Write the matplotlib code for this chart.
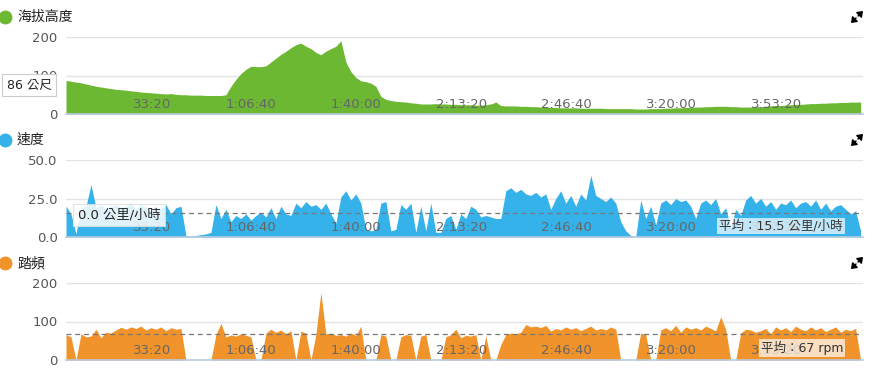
import numpy as np
import matplotlib
matplotlib.use("Agg")
import matplotlib.pyplot as plt
from matplotlib.lines import Line2D

plt.rcParams['font.family'] = ['DejaVu Sans', 'Noto Sans CJK TC']

W, H = 878, 391

# samples every 95 s (about 5 px in the reference)
t = np.arange(160) * 95

altitude = [87, 85, 83, 81, 78, 75, 72, 70, 68, 66, 64, 63, 62, 60, 59, 57, 56, 55, 54, 53,
            52, 53, 51, 50, 50, 49, 49, 49, 48, 48, 48, 48, 50, 72, 90, 105, 116, 124, 123, 123,
            125, 135, 145, 155, 163, 172, 180, 184, 176, 170, 160, 154, 163, 170, 176, 190, 135, 110, 95, 86,
            84, 80, 72, 46, 38, 35, 33, 32, 31, 29, 28, 26, 26, 26, 27, 26, 26, 25, 25, 24,
            24, 24, 23, 23, 24, 26, 31, 22, 21, 21, 21, 20, 20, 19, 19, 18, 18, 17, 17, 16,
            16, 16, 16, 15, 15, 15, 15, 15, 14, 14, 14, 14, 14, 14, 13, 13, 13, 14, 14, 14,
            15, 15, 16, 16, 17, 17, 18, 18, 19, 19, 20, 20, 20, 19, 19, 18, 18, 18, 19, 19,
            20, 21, 22, 22, 23, 24, 25, 25, 26, 27, 27, 28, 28, 29, 29, 30, 30, 31, 31, 31]

speed = [20, 15, 2, 19, 20, 34, 19, 21, 18, 20, 21, 19, 20, 22, 18, 21, 19, 17, 20, 18,
         21, 15, 19, 20, 1, 0.5, 1, 1.5, 2, 3, 21, 12, 18, 10, 14, 12, 15, 11, 14, 16,
         13, 19, 12, 20, 15, 14, 22, 19, 23, 20, 21, 18, 22, 15, 9, 26, 30, 24, 28, 22,
         5, 4, 5, 22, 23, 4, 5, 21, 18, 22, 3, 20, 4, 22, 3, 3, 12, 14, 5, 15,
         12, 20, 18, 13, 14, 13, 12, 12, 30, 32, 29, 31, 28, 27, 29, 26, 28, 18, 25, 30,
         22, 27, 20, 28, 24, 40, 27, 25, 23, 26, 22, 10, 4, 1, 0, 24, 12, 20, 8, 22,
         24, 21, 25, 23, 24, 20, 12, 22, 24, 21, 25, 15, 19, 6, 18, 14, 24, 27, 22, 25,
         20, 23, 18, 22, 21, 24, 19, 22, 23, 20, 24, 18, 22, 17, 20, 21, 18, 15, 17, 4]

cadence = [66, 60, 0, 68, 60, 62, 80, 58, 72, 70, 78, 85, 80, 86, 82, 88, 78, 84, 80, 86,
           76, 84, 80, 82, 0, 0, 0, 0, 0, 0, 66, 95, 60, 65, 62, 68, 64, 60, 0, 0,
           70, 80, 72, 78, 68, 76, 0, 75, 70, 0, 66, 175, 68, 70, 64, 66, 62, 70, 64, 88,
           0, 0, 0, 66, 62, 0, 0, 60, 66, 64, 0, 62, 66, 0, 0, 0, 60, 66, 80, 58,
           64, 62, 66, 0, 62, 0, 0, 40, 66, 70, 68, 72, 92, 86, 88, 84, 90, 75, 82, 78,
           86, 80, 84, 76, 82, 88, 78, 82, 78, 86, 80, 0, 0, 0, 0, 70, 66, 0, 0, 78,
           84, 76, 90, 72, 86, 80, 84, 78, 88, 82, 76, 112, 80, 0, 0, 70, 80, 78, 72, 76,
           82, 68, 86, 78, 84, 74, 88, 80, 76, 86, 78, 84, 74, 80, 86, 72, 80, 76, 82, 0]

tick_pos = [2000, 4000, 6000, 8000, 10000, 12000, 14000]
tick_lab = ['33:20', '1:06:40', '1:40:00', '2:13:20', '2:46:40', '3:20:00', '3:53:20']

panels = [
    ('海拔高度', altitude, '#6cb833', [0, 100, 200], ['0', '100', '200'], 200, None),
    ('速度', speed, '#36b2ea', [0, 25, 50], ['0.0', '25.0', '50.0'], 50, 15.5),
    ('踏頻', cadence, '#f0932a', [0, 100, 200], ['0', '100', '200'], 200, 67),
]
tops = [37, 160, 283]   # pixel row of the top grid line
ph = 77

fig = plt.figure(figsize=(W / 100, H / 100), dpi=100)
for (title, vals, col, yt, ytl, ymax, avg), top in zip(panels, tops):
    ax = fig.add_axes([66 / W, 1 - (top + ph) / H, 797 / W, ph / H])
    for g in yt[1:]:
        ax.axhline(g, color='#e3e3e3', lw=1, zorder=0.5)
    ax.fill_between(t, vals, 0, color=col, lw=0, zorder=1)
    ax.set_xlim(0, 15150)
    ax.set_ylim(0, ymax)
    ax.set_yticks(yt, ytl)
    ax.set_xticks(tick_pos, tick_lab)
    for lab in ax.get_xticklabels():
        lab.set_ha('right')
    ax.tick_params(axis='x', length=0, pad=-11.5, labelsize=9.5, labelcolor='#666666')
    ax.tick_params(axis='y', length=0, pad=6, labelsize=9.5, labelcolor='#555555')
    for s in ['top', 'left', 'right']:
        ax.spines[s].set_visible(False)
    ax.spines['bottom'].set_color('#b9cbe0')
    ax.spines['bottom'].set_linewidth(1.2)
    if avg is not None:
        ax.axhline(avg, color='#777777', lw=0.9, ls=(0, (4, 3)), zorder=2)
    # title with coloured dot
    ty = 1 - (top - 20) / H
    fig.add_artist(Line2D([5 / W], [ty], marker='o', ms=9, color=col, transform=fig.transFigure))
    fig.text(17 / W, ty, title, fontsize=10, va='center', ha='left', color='#222222',
             family=['Noto Sans CJK TC', 'DejaVu Sans'])
    # expand icon
    iy = H - (top - 20)
    arrow = dict(arrowstyle='-|>,head_length=0.6,head_width=0.45', color='black', lw=1.1,
                 shrinkA=0, shrinkB=0, mutation_scale=5)
    ax.annotate('', xy=(863, iy + 6), xytext=(858, iy + 1), xycoords='figure pixels',
                textcoords='figure pixels', arrowprops=arrow)
    ax.annotate('', xy=(851, iy - 6), xytext=(856, iy - 1), xycoords='figure pixels',
                textcoords='figure pixels', arrowprops=arrow)

box = dict(boxstyle='square,pad=0.35', facecolor='white', edgecolor='#cccccc', lw=0.8)
fig.text(29 / W, 1 - 85 / H, '86 公尺', fontsize=9, ha='center', va='center', color='#222222', bbox=box)
fig.text(119 / W, 1 - 215 / H, '0.0 公里/小時', fontsize=9.5, ha='center', va='center', color='#222222',
         bbox=dict(boxstyle='square,pad=0.35', facecolor='white', edgecolor='#dddddd', lw=0.8, alpha=0.85))
box2 = dict(boxstyle='square,pad=0.15', facecolor='white', edgecolor='none', alpha=0.7)
fig.text(781 / W, 1 - 226 / H, '平均：15.5 公里/小時', fontsize=9, ha='center', va='center', color='#333333', bbox=box2)
fig.text(802 / W, 1 - 348 / H, '平均：67 rpm', fontsize=9, ha='center', va='center', color='#333333', bbox=box2)

fig.savefig('out.png', dpi=100)
